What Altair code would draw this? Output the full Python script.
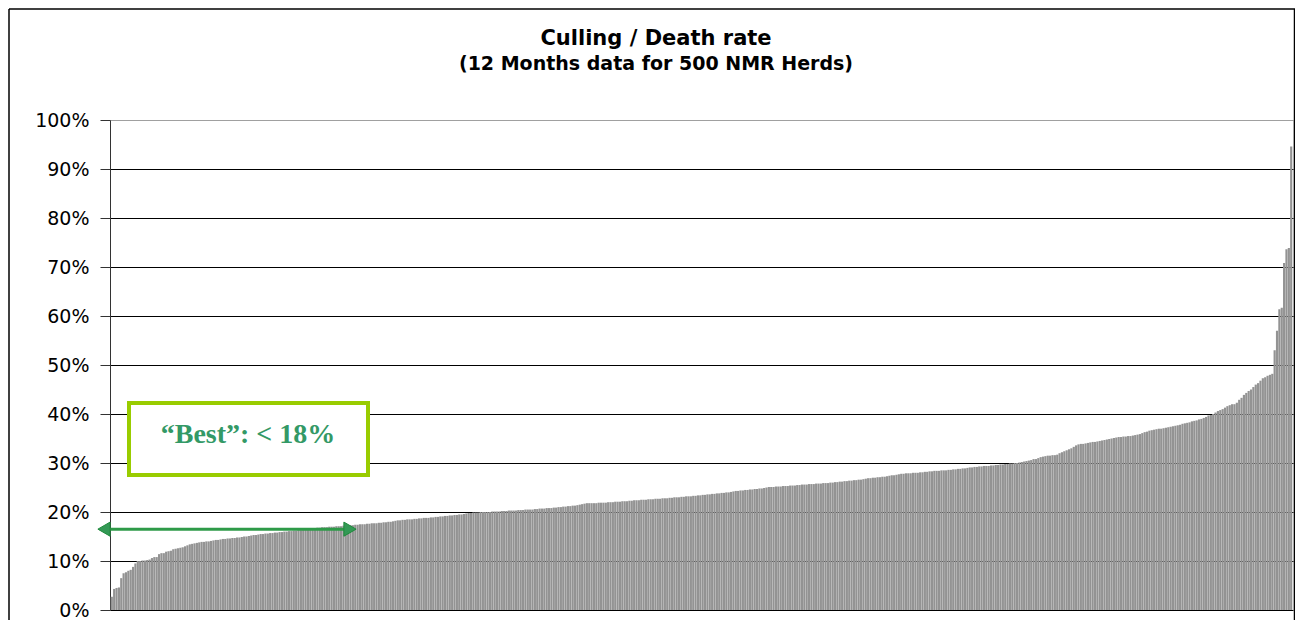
import altair as alt
import pandas as pd

# Culling / death rate (%) per herd, sorted ascending (500 NMR herds)
rate_pct = [
    2.7, 4.3, 4.5, 4.6, 6.5, 7.5, 7.7, 8.0, 8.2, 8.8,
    9.5, 10.0, 10.0, 10.1, 10.1, 10.2, 10.3, 10.6, 10.8, 10.8,
    11.4, 11.6, 11.6, 11.9, 12.0, 12.1, 12.4, 12.5, 12.6, 12.7,
    12.8, 13.0, 13.2, 13.4, 13.5, 13.6, 13.7, 13.8, 13.9, 13.9,
    14.0, 14.0, 14.1, 14.2, 14.3, 14.3, 14.4, 14.5, 14.5, 14.6,
    14.6, 14.7, 14.7, 14.8, 14.8, 14.9, 15.0, 15.0, 15.1, 15.2,
    15.3, 15.3, 15.4, 15.5, 15.5, 15.6, 15.6, 15.7, 15.7, 15.8,
    15.8, 15.9, 15.9, 16.0, 16.0, 16.1, 16.1, 16.2, 16.2, 16.3,
    16.3, 16.4, 16.4, 16.5, 16.6, 16.6, 16.7, 16.8, 16.8, 16.9,
    16.9, 16.9, 17.0, 17.0, 17.0, 17.1, 17.1, 17.1, 17.2, 17.2,
    17.3, 17.3, 17.3, 17.4, 17.4, 17.5, 17.5, 17.5, 17.6, 17.6,
    17.7, 17.7, 17.7, 17.8, 17.8, 17.9, 17.9, 18.0, 18.0, 18.1,
    18.2, 18.3, 18.3, 18.4, 18.4, 18.5, 18.5, 18.5, 18.6, 18.6,
    18.7, 18.7, 18.8, 18.8, 18.8, 18.9, 18.9, 19.0, 19.0, 19.1,
    19.1, 19.2, 19.2, 19.3, 19.3, 19.4, 19.4, 19.5, 19.5, 19.6,
    19.7, 19.8, 19.8, 19.9, 19.9, 19.9, 20.0, 20.0, 20.0, 20.0,
    20.0, 20.1, 20.1, 20.1, 20.1, 20.2, 20.2, 20.2, 20.3, 20.3,
    20.3, 20.3, 20.4, 20.4, 20.4, 20.5, 20.5, 20.5, 20.5, 20.6,
    20.6, 20.7, 20.7, 20.7, 20.8, 20.8, 20.8, 20.9, 20.9, 21.0,
    21.0, 21.1, 21.1, 21.2, 21.2, 21.3, 21.3, 21.4, 21.5, 21.6,
    21.7, 21.8, 21.8, 21.8, 21.8, 21.8, 21.9, 21.9, 21.9, 21.9,
    22.0, 22.0, 22.0, 22.1, 22.1, 22.1, 22.2, 22.2, 22.2, 22.3,
    22.3, 22.4, 22.4, 22.4, 22.5, 22.5, 22.5, 22.6, 22.6, 22.6,
    22.7, 22.7, 22.7, 22.8, 22.8, 22.8, 22.9, 22.9, 23.0, 23.0,
    23.0, 23.1, 23.1, 23.2, 23.2, 23.2, 23.3, 23.3, 23.4, 23.4,
    23.5, 23.5, 23.6, 23.6, 23.7, 23.7, 23.8, 23.8, 23.9, 23.9,
    24.0, 24.0, 24.1, 24.2, 24.3, 24.3, 24.4, 24.4, 24.5, 24.5,
    24.6, 24.6, 24.7, 24.7, 24.8, 24.8, 24.9, 25.0, 25.1, 25.1,
    25.1, 25.2, 25.2, 25.2, 25.3, 25.3, 25.3, 25.4, 25.4, 25.4,
    25.5, 25.5, 25.6, 25.6, 25.6, 25.7, 25.7, 25.7, 25.8, 25.8,
    25.8, 25.9, 25.9, 25.9, 26.0, 26.0, 26.1, 26.1, 26.2, 26.2,
    26.3, 26.3, 26.4, 26.4, 26.5, 26.5, 26.6, 26.6, 26.7, 26.8,
    26.9, 26.9, 27.0, 27.0, 27.1, 27.1, 27.2, 27.2, 27.3, 27.4,
    27.5, 27.5, 27.6, 27.7, 27.8, 27.8, 27.9, 27.9, 27.9, 28.0,
    28.0, 28.0, 28.1, 28.1, 28.2, 28.2, 28.3, 28.3, 28.4, 28.4,
    28.4, 28.5, 28.5, 28.5, 28.6, 28.6, 28.7, 28.7, 28.8, 28.8,
    28.9, 28.9, 29.0, 29.1, 29.1, 29.2, 29.2, 29.3, 29.3, 29.4,
    29.4, 29.4, 29.5, 29.5, 29.6, 29.6, 29.7, 29.7, 29.8, 29.8,
    29.9, 29.9, 30.0, 30.0, 30.1, 30.2, 30.3, 30.4, 30.5, 30.6,
    30.8, 30.8, 31.0, 31.2, 31.3, 31.4, 31.5, 31.5, 31.6, 31.6,
    31.7, 32.0, 32.2, 32.4, 32.6, 32.8, 33.0, 33.3, 33.6, 33.8,
    33.9, 33.9, 34.0, 34.1, 34.2, 34.3, 34.3, 34.4, 34.5, 34.6,
    34.7, 34.8, 34.9, 35.0, 35.1, 35.2, 35.3, 35.3, 35.4, 35.4,
    35.5, 35.5, 35.6, 35.7, 35.8, 35.9, 36.1, 36.3, 36.4, 36.6,
    36.7, 36.8, 36.9, 37.0, 37.0, 37.1, 37.2, 37.3, 37.4, 37.5,
    37.6, 37.7, 37.8, 38.0, 38.1, 38.2, 38.3, 38.5, 38.6, 38.7,
    38.9, 39.0, 39.2, 39.4, 39.7, 39.8, 40.0, 40.3, 40.6, 40.8,
    41.0, 41.3, 41.6, 41.8, 42.0, 42.0, 42.3, 42.9, 43.3, 43.9,
    44.3, 44.7, 45.0, 45.5, 46.0, 46.3, 46.8, 47.3, 47.5, 47.8,
    48.0, 48.2, 53.0, 57.0, 61.4, 61.7, 70.8, 73.6, 73.9, 94.6,
]
herd_rank = list(range(1, len(rate_pct) + 1))

y_ticks = [0, 0.1, 0.2, 0.3, 0.4, 0.5, 0.6, 0.7, 0.8, 0.9, 1.0]
title_lines = ["Culling / Death rate", "(12 Months data for 500 NMR Herds)"]
best_label = "\u201cBest\u201d: < 18%"
best_level = [0.165]

W, H = 1183, 490
PAD = {"left": 102, "top": 112, "right": 2, "bottom": 10}

df = pd.DataFrame({"herd": herd_rank, "rate": [v / 100 for v in rate_pct]})

bars = alt.Chart(df).mark_bar(color="#939393").encode(
    x=alt.X("herd:O", axis=None,
            scale=alt.Scale(paddingInner=0.08, paddingOuter=0.3)),
    y=alt.Y("rate:Q",
            scale=alt.Scale(domain=[0, 1]),
            axis=alt.Axis(
                values=y_ticks, format=".0%", title=None,
                labelFont="DejaVu Sans", labelFontSize=19, labelColor="black",
                labelPadding=11, tickSize=10, tickColor="#333333",
                domainColor="#333333",
                grid=True,
                gridColor=alt.condition("datum.value >= 0.99",
                                        alt.value("#A0A0A0"), alt.value("black")),
                gridWidth=1,
            )),
)

one = pd.DataFrame({"k": [0]})

# title texts
title_main = alt.Chart(one).mark_text(
    text=title_lines[0], font="DejaVu Sans", fontWeight="bold", fontSize=21,
    color="black", align="center", baseline="alphabetic"
).encode(x=alt.value(546), y=alt.value(-75))

title_sub = alt.Chart(one).mark_text(
    text=title_lines[1], font="DejaVu Sans", fontWeight="bold", fontSize=19,
    color="black", align="center", baseline="alphabetic"
).encode(x=alt.value(546), y=alt.value(-50))

# annotation box
box = alt.Chart(one).mark_rect(
    fill="white", stroke="#99CC00", strokeWidth=4
).encode(x=alt.value(19), x2=alt.value(258), y=alt.value(283), y2=alt.value(355))

box_text = alt.Chart(one).mark_text(
    text=best_label, font="Liberation Serif", fontWeight="bold", fontSize=28,
    color="#339966", align="center", baseline="alphabetic"
).encode(x=alt.value(138), y=alt.value(323))

# double-headed arrow at the "best" level
arr_df = pd.DataFrame({"lvl": best_level})
arrow_line = alt.Chart(arr_df).mark_rule(
    color="#2E9A48", strokeWidth=3
).encode(x=alt.value(-4), x2=alt.value(238), y=alt.Y("lvl:Q"))

head_left = alt.Chart(arr_df).mark_point(
    shape="triangle-left", size=200, filled=True, fill="#339955",
    stroke="#1F8A3C", strokeWidth=1, opacity=1
).encode(x=alt.value(-6), y=alt.Y("lvl:Q"))

head_right = alt.Chart(arr_df).mark_point(
    shape="triangle-right", size=200, filled=True, fill="#339955",
    stroke="#1F8A3C", strokeWidth=1, opacity=1
).encode(x=alt.value(240), y=alt.Y("lvl:Q"))

# outer frame of the chart
frame_left = alt.Chart(one).mark_rule(color="black", strokeWidth=1.5).encode(
    x=alt.value(-101), y=alt.value(-111), y2=alt.value(H + 12))
frame_top = alt.Chart(one).mark_rule(color="black", strokeWidth=1.5).encode(
    x=alt.value(-101), x2=alt.value(W + 2), y=alt.value(-111))
frame_right = alt.Chart(one).mark_rule(color="black", strokeWidth=1.5).encode(
    x=alt.value(W + 1.5), y=alt.value(-111), y2=alt.value(H + 12))

chart = alt.layer(
    bars, box, box_text, arrow_line, head_left, head_right,
    title_main, title_sub, frame_left, frame_top, frame_right
).properties(
    width=W, height=H,
    autosize=alt.AutoSizeParams(type="none"),
    padding=PAD,
).configure_view(
    stroke="#A0A0A0", strokeWidth=1
).configure(background="white")

chart.save("out.html", embed_options={"renderer": "svg", "actions": False})
